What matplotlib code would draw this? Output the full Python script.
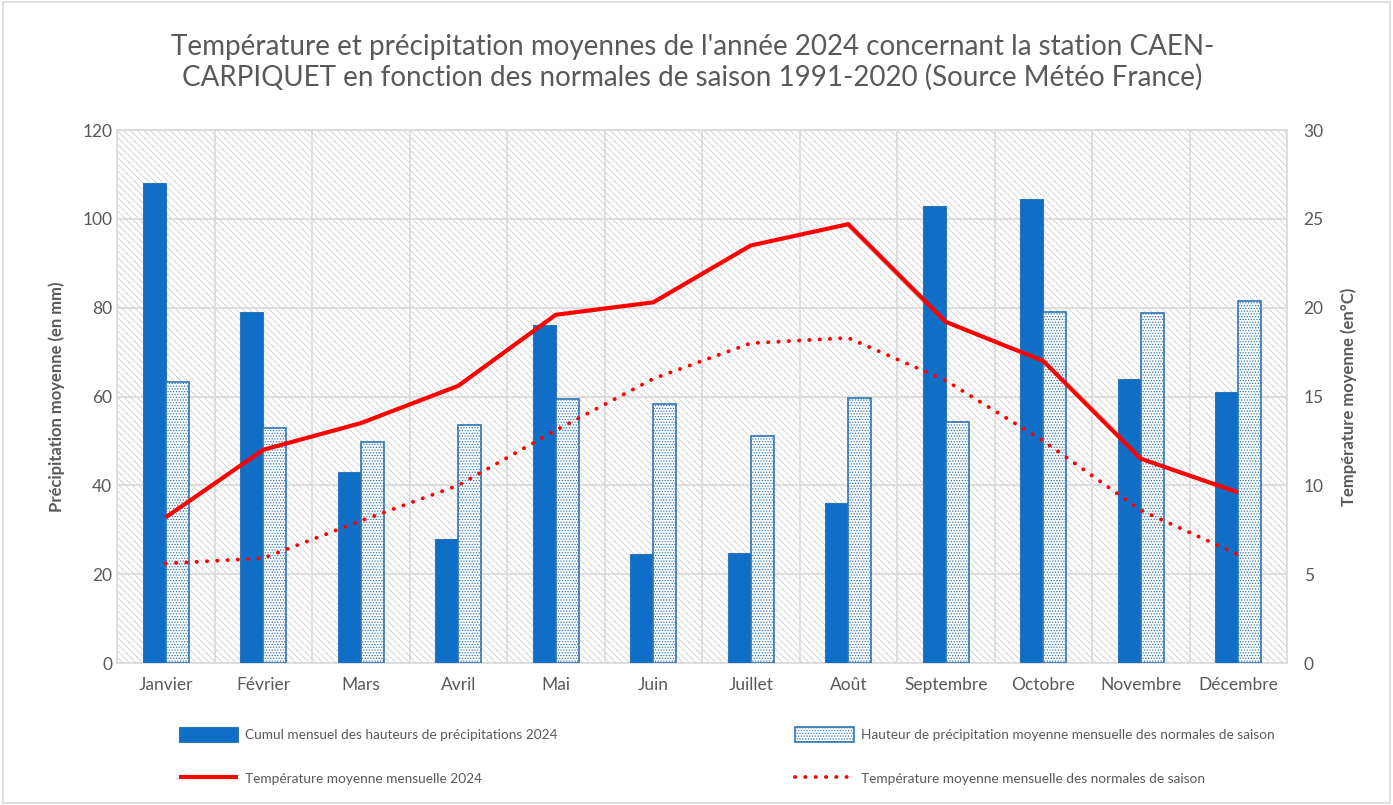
import matplotlib
matplotlib.use("Agg")
import matplotlib.pyplot as plt
import numpy as np
from matplotlib.patches import Rectangle

plt.rcParams['font.family'] = ['Lato', 'DejaVu Sans']
plt.rcParams['hatch.linewidth'] = 0.6

months = ["Janvier", "Février", "Mars", "Avril", "Mai", "Juin", "Juillet",
          "Août", "Septembre", "Octobre", "Novembre", "Décembre"]
precip_2024 = [108, 79, 43, 28, 76, 24.5, 24.8, 36, 103, 104.5, 64, 61]
precip_normal = [63.3, 52.8, 49.8, 53.6, 59.4, 58.2, 51.2, 59.7, 54.3, 79.1, 78.8, 81.5]
temp_2024 = [8.2, 12.0, 13.5, 15.6, 19.6, 20.3, 23.5, 24.7, 19.2, 17.0, 11.5, 9.6]
temp_normal = [5.6, 5.9, 8.0, 10.0, 13.1, 16.0, 18.0, 18.3, 15.9, 12.5, 8.6, 6.1]

title = ("Température et précipitation moyennes de l'année 2024 concernant la station CAEN-\n"
         "CARPIQUET en fonction des normales de saison 1991-2020 (Source Météo France)")

blue = "#0F6FC6"
blue_edge = "#2E75B6"
red = "#FF0000"
gray_txt = "#595959"
grid_c = "#D9D9D9"

fig = plt.figure(figsize=(13.93, 8.05), dpi=100)
fig.patch.set_facecolor("white")
ax = fig.add_axes([117/1393, 1-663/805, 1170/1393, 533/805])
ax2 = ax.twinx()

x = np.arange(len(months))
w = 0.235

# background hatch
ax.add_patch(Rectangle((0, 0), 1, 1, transform=ax.transAxes, facecolor="white",
                       edgecolor="#CCCCCC", hatch="\\\\\\\\\\", linewidth=0, zorder=0))

ax.bar(x - w/2, precip_2024, width=w, color=blue, edgecolor=blue_edge, linewidth=0.8,
       zorder=3, label="Cumul mensuel des hauteurs de précipitations 2024")
ax.bar(x + w/2, precip_normal, width=w, facecolor="white", edgecolor=blue_edge, linewidth=1.2,
       hatch="......", zorder=3,
       label="Hauteur de précipitation moyenne mensuelle des normales de saison")

ax.set_xlim(-0.5, 11.5)
ax.set_ylim(0, 120)
ax.set_yticks(np.arange(0, 121, 20))
ax.set_xticks(x)
ax.set_xticklabels(months)
ax.set_xticks(np.arange(-0.5, 12, 1), minor=True)
ax.grid(True, which="minor", axis="x", color=grid_c, linewidth=1.2, zorder=1)
ax.grid(True, which="major", axis="y", color=grid_c, linewidth=1.2, zorder=1)
ax.tick_params(axis="both", which="both", length=0, colors=gray_txt, labelsize=12.5)
ax.tick_params(axis="x", pad=10)
for s in ax.spines.values():
    s.set_color(grid_c)
    s.set_linewidth(1.2)
ax.set_axisbelow(True)
ax.set_ylabel("Précipitation moyenne (en mm)", fontsize=12, fontweight="bold",
              color=gray_txt, labelpad=12)

ax2.plot(x, temp_2024, color=red, linewidth=3, zorder=5, label="Température moyenne mensuelle 2024",
         solid_capstyle="butt")
ax2.plot(x, temp_normal, color=red, linewidth=2.8, linestyle=(0, (0.05, 2.6)), dash_capstyle="round",
         zorder=5, label="Température moyenne mensuelle des normales de saison")
ax2.set_ylim(0, 30)
ax2.set_yticks(np.arange(0, 31, 5))
ax2.tick_params(axis="y", length=0, colors=gray_txt, labelsize=12.5, pad=12)
for s in ax2.spines.values():
    s.set_visible(False)
ax2.set_ylabel("Température moyenne (en°C)", fontsize=12, fontweight="bold",
               color=gray_txt, labelpad=12)

fig.text(0.497, 0.958, title, ha="center", va="top", fontsize=20, color=gray_txt,
         linespacing=1.2)

h1, l1 = ax.get_legend_handles_labels()
h2, l2 = ax2.get_legend_handles_labels()
handles = [h1[0], h2[0], h1[1], h2[1]]
labels = [l1[0], l2[0], l1[1], l2[1]]
leg = fig.legend(handles, labels, ncol=2, loc="upper left", bbox_to_anchor=(167/1393, 1-715/805),
                 frameon=False, fontsize=9.8, handlelength=4.3, handleheight=1.3,
                 columnspacing=17.5, labelspacing=2.15, handletextpad=0.5)
for t in leg.get_texts():
    t.set_color(gray_txt)

# outer border
fig.add_artist(Rectangle((0.002, 0.002), 0.996, 0.996, transform=fig.transFigure,
                         fill=False, edgecolor="#D9D9D9", linewidth=1.2))

fig.savefig("out.png", dpi=100)
